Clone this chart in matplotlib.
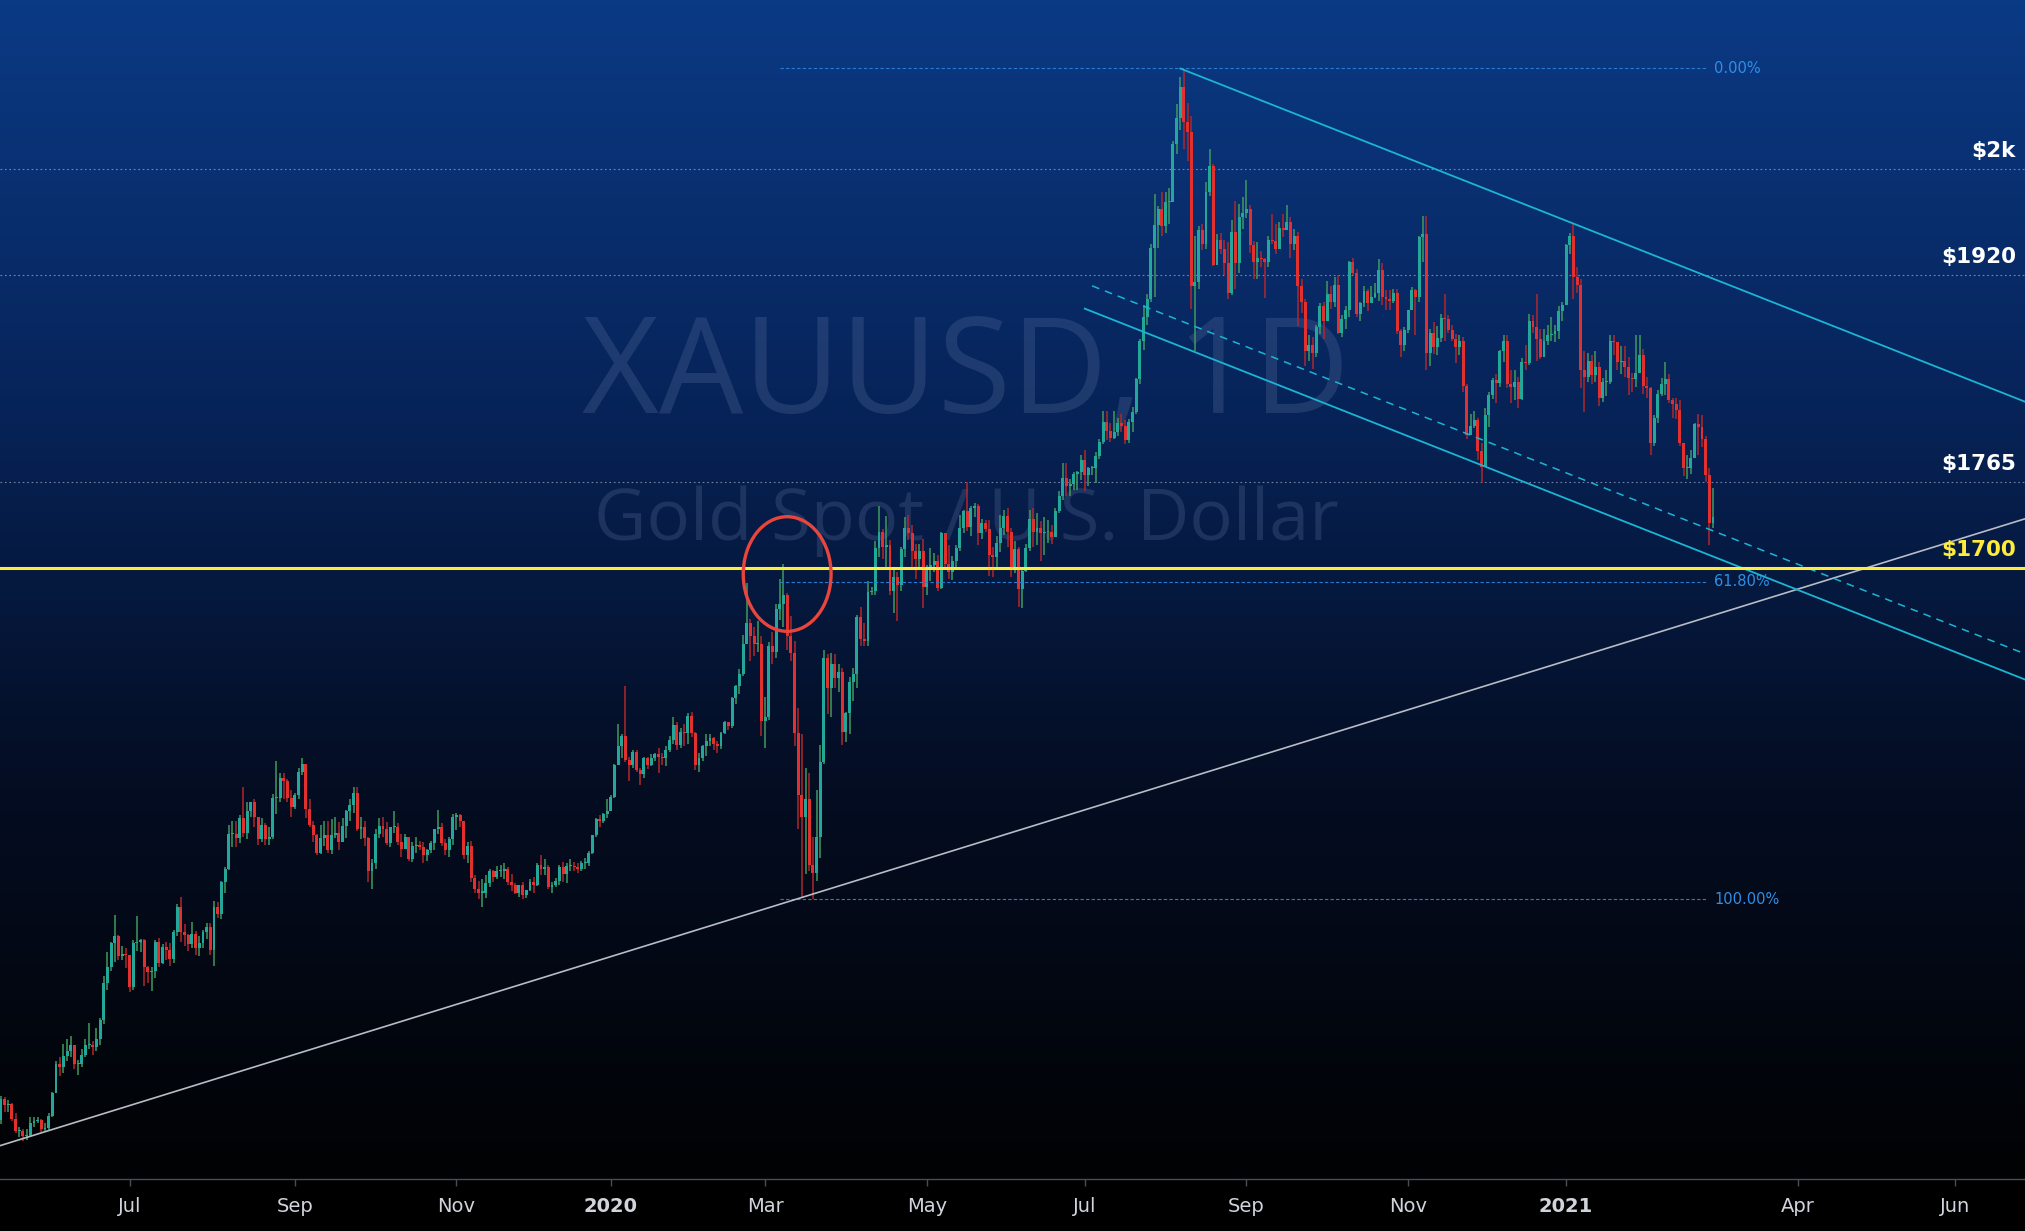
import numpy as np
import pandas as pd
import matplotlib
matplotlib.use('Agg')
import matplotlib.pyplot as plt
from matplotlib.patches import Ellipse
from matplotlib.colors import LinearSegmentedColormap

# XAUUSD daily candles, 2019-05-13 .. 2021-03-01
closes_2019 = [
    1301, 1296, 1297, 1286, 1277, 1277, 1273, 1274, 1283, 1284, 1285, 1278, 1279, 1288, 1305,  # may
    1327, 1325, 1333, 1337, 1341, 1327, 1327, 1334, 1341, 1341, 1340, 1346, 1360, 1388, 1400,
    1418, 1423, 1408, 1410, 1409,  # jun
    1385, 1418, 1419, 1420, 1400, 1396, 1397, 1419, 1403, 1415, 1413, 1406, 1426, 1445, 1426,
    1424, 1417, 1425, 1414, 1418, 1426, 1430, 1413,  # jul
    1445, 1440, 1464, 1474, 1500, 1500, 1497, 1512, 1501, 1517, 1524, 1513, 1496, 1507, 1496,
    1498, 1527, 1527, 1542, 1540, 1527, 1520,  # aug
    1529, 1547, 1553, 1519, 1507, 1499, 1486, 1497, 1499, 1488, 1499, 1501, 1494, 1506, 1517,
    1522, 1531, 1504, 1505, 1497, 1472,  # sep
    1478, 1500, 1506, 1504, 1493, 1505, 1505, 1494, 1489, 1498, 1481, 1491, 1492, 1490, 1484,
    1488, 1493, 1504, 1505, 1493, 1488, 1496, 1513,  # oct
    1514, 1510, 1484, 1491, 1467, 1459, 1456, 1456, 1463, 1472, 1468, 1472, 1472, 1474, 1464,
    1462, 1456, 1462, 1454, 1458, 1464,  # nov
    1462, 1477, 1474, 1475, 1460, 1462, 1465, 1475, 1470, 1476, 1476, 1475, 1474, 1478, 1478,
    1486, 1499, 1511, 1510, 1515, 1517,  # dec
]
highs_2019 = [
    1303, 1302, 1300, 1298, 1290, 1280, 1278, 1278, 1287, 1287, 1287, 1286, 1283, 1290, 1306,
    1329, 1332, 1342, 1346, 1348, 1340, 1330, 1338, 1346, 1358, 1344, 1354, 1362, 1393, 1411,
    1419, 1439, 1424, 1416, 1414,
    1396, 1420, 1438, 1421, 1421, 1401, 1400, 1420, 1422, 1417, 1419, 1418, 1428, 1447, 1453,
    1432, 1425, 1434, 1427, 1423, 1428, 1433, 1433,
    1450, 1449, 1465, 1475, 1507, 1510, 1510, 1514, 1535, 1524, 1524, 1526, 1513, 1512, 1508,
    1505, 1530, 1555, 1546, 1546, 1541, 1533,
    1531, 1550, 1557, 1553, 1526, 1510, 1500, 1507, 1510, 1510, 1511, 1513, 1509, 1512, 1518,
    1526, 1535, 1535, 1513, 1510, 1498,
    1481, 1504, 1512, 1513, 1509, 1505, 1517, 1508, 1500, 1500, 1498, 1494, 1498, 1495, 1494,
    1489, 1495, 1504, 1518, 1508, 1496, 1498, 1515,
    1516, 1515, 1510, 1494, 1495, 1469, 1465, 1466, 1469, 1474, 1473, 1476, 1477, 1478, 1475,
    1470, 1463, 1462, 1464, 1458, 1466,
    1468, 1478, 1484, 1481, 1477, 1464, 1467, 1477, 1479, 1478, 1481, 1479, 1478, 1480, 1482,
    1487, 1499, 1512, 1514, 1516, 1526,
]
lows_2019 = [
    1282, 1291, 1291, 1284, 1275, 1272, 1269, 1270, 1272, 1280, 1283, 1276, 1277, 1277, 1287,
    1305, 1318, 1320, 1329, 1332, 1323, 1319, 1325, 1332, 1338, 1334, 1337, 1341, 1357, 1383,
    1397, 1404, 1405, 1405, 1399,
    1381, 1383, 1412, 1411, 1386, 1388, 1382, 1392, 1400, 1402, 1405, 1401, 1403, 1423, 1419,
    1416, 1412, 1414, 1409, 1408, 1414, 1421, 1409,
    1401, 1437, 1436, 1456, 1473, 1490, 1490, 1493, 1498, 1496, 1513, 1505, 1492, 1494, 1492,
    1492, 1496, 1515, 1524, 1526, 1524, 1513,
    1519, 1526, 1544, 1512, 1505, 1494, 1484, 1485, 1491, 1486, 1485, 1497, 1488, 1495, 1497,
    1510, 1516, 1502, 1496, 1491, 1464,
    1459, 1474, 1497, 1498, 1492, 1490, 1501, 1492, 1483, 1489, 1480, 1479, 1486, 1488, 1478,
    1480, 1486, 1488, 1500, 1491, 1484, 1483, 1492,
    1503, 1505, 1481, 1478, 1464, 1456, 1451, 1445, 1452, 1460, 1464, 1466, 1468, 1466, 1462,
    1457, 1455, 1453, 1451, 1452, 1457,
    1456, 1461, 1469, 1469, 1459, 1456, 1460, 1462, 1464, 1463, 1472, 1472, 1471, 1472, 1474,
    1476, 1485, 1498, 1505, 1508, 1512,
]

closes_2020 = [
    1528, 1552, 1566, 1574, 1556, 1552, 1562, 1548, 1545, 1557, 1552, 1557, 1560, 1558, 1557,
    1563, 1571, 1582, 1567, 1577, 1576, 1589,  # jan
    1576, 1552, 1557, 1566, 1570, 1572, 1568, 1566, 1576, 1584, 1581, 1602, 1611, 1620, 1643,
    1659, 1649, 1643, 1643, 1585,  # feb
    1588, 1641, 1637, 1669, 1673, 1680, 1649, 1636, 1576, 1529, 1513, 1526, 1477, 1471, 1498,
    1554, 1632, 1610, 1628, 1617, 1622, 1577,  # mar
    1591, 1614, 1620, 1663, 1647, 1645, 1682, 1683, 1715, 1727, 1716, 1717, 1683, 1693, 1687,
    1714, 1730, 1726, 1713, 1707, 1713, 1686,  # apr
    1700, 1702, 1705, 1685, 1726, 1703, 1697, 1705, 1715, 1730, 1743, 1731, 1745, 1747, 1726,
    1734, 1729, 1710, 1708, 1719, 1730,  # may
    1739, 1727, 1699, 1714, 1684, 1698, 1715, 1737, 1727, 1730, 1726, 1727, 1727, 1723, 1743,
    1754, 1768, 1762, 1763, 1771, 1772, 1781,  # jun
    1770, 1775, 1775, 1784, 1795, 1810, 1803, 1798, 1802, 1809, 1807, 1796, 1810, 1817, 1842,
    1871, 1889, 1902, 1941, 1958, 1970, 1957, 1975,  # jul
    1975, 2019, 2038, 2062, 2035, 2028, 1912, 1915, 1954, 1944, 1983, 2002, 1928, 1947, 1940,
    1929, 1907, 1953, 1929, 1964, 1967,  # aug
    1970, 1943, 1930, 1933, 1932, 1930, 1947, 1946, 1940, 1956, 1954, 1960, 1944, 1950, 1912,
    1900, 1863, 1868, 1862, 1881, 1897, 1886,  # sep
    1906, 1900, 1913, 1877, 1887, 1894, 1930, 1922, 1891, 1899, 1908, 1899, 1904, 1907, 1924,
    1904, 1902, 1901, 1907, 1878, 1868, 1879,  # oct
    1894, 1909, 1904, 1949, 1951, 1862, 1877, 1866, 1873, 1888, 1887, 1879, 1872, 1866, 1871,
    1837, 1800, 1807, 1811, 1788, 1776,  # nov
    1815, 1830, 1841, 1839, 1863, 1871, 1838, 1836, 1840, 1827, 1855, 1854, 1886, 1881, 1872,
    1859, 1871, 1875, 1876, 1878, 1893, 1898,  # dec
]
highs_2020 = [
    1529, 1553, 1583, 1575, 1611, 1558, 1563, 1563, 1550, 1558, 1558, 1560, 1561, 1565, 1561,
    1566, 1574, 1588, 1584, 1580, 1583, 1591,
    1592, 1577, 1561, 1567, 1575, 1575, 1573, 1570, 1577, 1585, 1584, 1603, 1612, 1624, 1650,
    1689, 1662, 1656, 1660, 1649,
    1603, 1644, 1652, 1673, 1692, 1703, 1681, 1664, 1645, 1595, 1575, 1550, 1546, 1498, 1533,
    1567, 1638, 1635, 1636, 1635, 1628, 1625,
    1592, 1618, 1625, 1665, 1671, 1659, 1690, 1686, 1720, 1747, 1729, 1739, 1721, 1700, 1697,
    1716, 1738, 1740, 1732, 1718, 1718, 1722,
    1702, 1715, 1711, 1710, 1727, 1722, 1717, 1709, 1717, 1740, 1744, 1765, 1747, 1749, 1748,
    1737, 1736, 1736, 1716, 1724, 1740,
    1744, 1745, 1730, 1720, 1716, 1701, 1718, 1744, 1745, 1741, 1735, 1738, 1736, 1732, 1745,
    1758, 1779, 1779, 1767, 1772, 1773, 1785,
    1789, 1776, 1777, 1787, 1797, 1818, 1818, 1809, 1818, 1813, 1816, 1811, 1812, 1821, 1843,
    1872, 1898, 1906, 1944, 1981, 1972, 1983, 1983,
    1986, 2021, 2049, 2069, 2075, 2050, 2040, 1950, 1957, 1959, 1990, 2015, 2004, 1951, 1952,
    1947, 1945, 1962, 1976, 1974, 1979,
    1992, 1973, 1946, 1945, 1938, 1933, 1950, 1966, 1959, 1960, 1966, 1973, 1964, 1955, 1953,
    1917, 1902, 1875, 1874, 1883, 1899, 1900,
    1916, 1912, 1919, 1920, 1890, 1897, 1931, 1933, 1925, 1900, 1912, 1910, 1912, 1914, 1932,
    1929, 1909, 1909, 1910, 1910, 1880, 1881,
    1894, 1911, 1910, 1950, 1965, 1965, 1880, 1885, 1882, 1891, 1906, 1890, 1883, 1876, 1875,
    1874, 1838, 1816, 1818, 1813, 1794,
    1820, 1832, 1843, 1846, 1864, 1875, 1875, 1849, 1849, 1844, 1858, 1868, 1891, 1890, 1906,
    1880, 1880, 1883, 1889, 1883, 1897, 1900,
]
lows_2020 = [
    1518, 1527, 1552, 1557, 1554, 1540, 1550, 1547, 1537, 1542, 1549, 1551, 1555, 1546, 1552,
    1551, 1562, 1568, 1563, 1565, 1566, 1568,
    1573, 1548, 1547, 1555, 1559, 1566, 1563, 1561, 1564, 1575, 1578, 1580, 1598, 1605, 1619,
    1645, 1630, 1634, 1637, 1574,
    1565, 1586, 1628, 1632, 1661, 1656, 1638, 1630, 1566, 1504, 1452, 1470, 1472, 1451, 1465,
    1482, 1553, 1590, 1588, 1610, 1607, 1567,
    1569, 1575, 1600, 1610, 1641, 1641, 1641, 1680, 1680, 1708, 1707, 1701, 1680, 1666, 1660,
    1683, 1708, 1721, 1701, 1692, 1700, 1670,
    1680, 1690, 1697, 1683, 1684, 1700, 1692, 1691, 1700, 1713, 1726, 1728, 1724, 1738, 1717,
    1722, 1727, 1694, 1693, 1700, 1712,
    1725, 1716, 1693, 1696, 1671, 1670, 1697, 1713, 1716, 1717, 1705, 1710, 1719, 1718, 1723,
    1741, 1751, 1754, 1754, 1759, 1759, 1766,
    1758, 1762, 1770, 1764, 1782, 1793, 1796, 1795, 1797, 1799, 1802, 1793, 1794, 1802, 1816,
    1838, 1864, 1883, 1900, 1904, 1941, 1950, 1952,
    1959, 1976, 2011, 2029, 2015, 2006, 1895, 1863, 1910, 1939, 1940, 1980, 1927, 1929, 1936,
    1920, 1902, 1905, 1910, 1922, 1955,
    1963, 1937, 1917, 1917, 1926, 1903, 1926, 1944, 1936, 1942, 1949, 1956, 1933, 1939, 1882,
    1892, 1852, 1856, 1850, 1859, 1876, 1872,
    1886, 1895, 1896, 1876, 1874, 1880, 1889, 1920, 1889, 1886, 1896, 1893, 1899, 1903, 1901,
    1898, 1894, 1894, 1899, 1876, 1859, 1863,
    1877, 1894, 1875, 1900, 1930, 1849, 1852, 1861, 1860, 1870, 1871, 1877, 1871, 1854, 1860,
    1832, 1797, 1800, 1805, 1781, 1764,
    1776, 1806, 1827, 1824, 1836, 1855, 1835, 1824, 1826, 1820, 1826, 1849, 1853, 1877, 1856,
    1857, 1860, 1868, 1871, 1870, 1872, 1886,
]

closes_2021 = [
    1943, 1950, 1919, 1913, 1849, 1844, 1856, 1845, 1851, 1828, 1840, 1840, 1871, 1870, 1855,
    1856, 1851, 1843, 1842, 1847,  # jan
    1860, 1837, 1835, 1794, 1813, 1831, 1838, 1842, 1826, 1823, 1819, 1794, 1775, 1775, 1783,
    1808, 1806, 1797, 1770, 1734,  # feb
    1738,  # mar 1
]
highs_2021 = [
    1944, 1952, 1959, 1926, 1917, 1863, 1862, 1860, 1863, 1855, 1843, 1849, 1875, 1875, 1870,
    1867, 1867, 1859, 1847, 1875,
    1875, 1865, 1844, 1836, 1815, 1834, 1843, 1855, 1846, 1828, 1828, 1826, 1794, 1785, 1789,
    1809, 1816, 1815, 1799, 1775,
    1760,
]
lows_2021 = [
    1900, 1936, 1902, 1907, 1835, 1817, 1840, 1838, 1840, 1822, 1825, 1829, 1838, 1860, 1849,
    1846, 1844, 1830, 1832, 1836,
    1849, 1831, 1828, 1785, 1792, 1809, 1829, 1830, 1824, 1813, 1812, 1792, 1769, 1767, 1771,
    1784, 1785, 1791, 1765, 1717,
    1730,
]
first_open = 1285

# drawings on the chart
levels = [2000, 1920, 1765]
level_labels = ['$2k', '$1920', '$1765']
key_level = 1700
fib_high, fib_low = 2075.6, 1451.0
fib_ratios = [0.0, 0.618, 1.0]
fib_names = ['0.00%', '61.80%', '100.00%']
fib_span = ('2020-03-06', '2021-02-25')
support_pts = [('2019-05-21', 1271.0), ('2020-03-16', 1452.3)]
channel_pts = [('2020-08-06', 2075.6), ('2021-01-06', 1959.0)]
channel_lower = ('2020-07-01', -208.9)
channel_mid = ('2020-07-03', -189.6)
circle_center = ('2020-03-10', 1695.5)

tick_months = ['2019-07', '2019-09', '2019-11', '2020-01', '2020-03', '2020-05',
               '2020-07', '2020-09', '2020-11', '2021-01', '2021-04', '2021-06']
tick_labels = ['Jul', 'Sep', 'Nov', '2020', 'Mar', 'May',
               'Jul', 'Sep', 'Nov', '2021', 'Apr', 'Jun']

# trading days (no weekends, no xmas / new year)
days = pd.bdate_range('2019-05-13', '2021-07-30')
days = days[~(((days.month == 12) & (days.day == 25)) | ((days.month == 1) & (days.day == 1)))]


def bar(s):
    return days.get_loc(pd.Timestamp(s))


c = np.array(closes_2019 + closes_2020 + closes_2021, dtype=float)
h = np.array(highs_2019 + highs_2020 + highs_2021, dtype=float)
l = np.array(lows_2019 + lows_2020 + lows_2021, dtype=float)
o = np.concatenate([[first_open], c[:-1]])
h = np.maximum(h, np.maximum(o, c))
l = np.minimum(l, np.minimum(o, c))
x = np.arange(len(c))

W, H = 2025, 1231
fig = plt.figure(figsize=(W / 100, H / 100), dpi=100)
fig.patch.set_facecolor('#000000')
ax = fig.add_axes([0, 52 / H, 1, 1179 / H])

bg = LinearSegmentedColormap.from_list('bg', ['#0b3a85', '#07245a', '#040d22', '#010203'])
ax.imshow(np.linspace(0, 1, 256)[:, None], cmap=bg, aspect='auto',
          extent=[0, 1, 0, 1], transform=ax.transAxes, zorder=0)

xmin = -0.25
xmax = xmin + W / 3.674
ax.set_xlim(xmin, xmax)
ax.set_ylim(1240.6, 2127.1)

# watermark
ax.text(0.477, 0.6497, 'XAUUSD, 1D', transform=ax.transAxes, ha='center', va='baseline',
        fontsize=96, color='#7f93bd', alpha=0.2, family='Open Sans', zorder=1)
ax.text(0.477, 0.542, 'Gold Spot / U.S. Dollar', transform=ax.transAxes, ha='center',
        va='baseline', fontsize=52, color='#7f93bd', alpha=0.2, family='Open Sans', zorder=1)

for lv in levels:
    ax.axhline(lv, color='#a8b0c4', lw=0.8, ls=(0, (1.5, 2.5)), alpha=0.7, zorder=2)

# candles
up = c >= o
wick_col = np.where(up, '#3f9a5e', '#b3262a')
body_col = np.where(up, '#22a79a', '#e2302e')
ax.vlines(x, l, h, colors=wick_col, lw=1.1, zorder=3)
body = np.maximum(np.abs(c - o), 0.8)
ax.bar(x, body, bottom=np.minimum(o, c), width=0.8, color=body_col, lw=0, zorder=4)

# fib retracement
fx0, fx1 = bar(fib_span[0]), bar(fib_span[1])
for r, name in zip(fib_ratios, fib_names):
    p = fib_high - r * (fib_high - fib_low)
    ax.hlines(p, fx0, fx1, color='#2a7cd0', lw=0.8, ls=(0, (3, 2)), zorder=5)
    ax.text(fx1 + 2.4, p, name, color='#2e8fe6', fontsize=10.5, ha='left', va='center', zorder=5)

# rising support line
(d1, p1), (d2, p2) = support_pts
ax.axline((bar(d1), p1), (bar(d2), p2), color='#b8bcc6', lw=1.2, zorder=5)

# falling channel
(d1, p1), (d2, p2) = channel_pts
slope = (p2 - p1) / (bar(d2) - bar(d1))
top_x = np.array([bar(d1), xmax])
ax.plot(top_x, p1 + slope * (top_x - bar(d1)), color='#1bb5d4', lw=1.3, zorder=5)
lx = np.array([bar(channel_lower[0]), xmax])
ax.plot(lx, p1 + slope * (lx - bar(d1)) + channel_lower[1], color='#1bb5d4', lw=1.3, zorder=5)
mx = np.array([bar(channel_mid[0]), xmax])
ax.plot(mx, p1 + slope * (mx - bar(d1)) + channel_mid[1], color='#1bb5d4', lw=1.1,
        ls=(0, (5, 4)), zorder=5)

ax.axhline(key_level, color='#ffeb3b', lw=2.2, zorder=6)

ax.add_patch(Ellipse((bar(circle_center[0]), circle_center[1]), width=23.9, height=86.2,
                     fill=False, edgecolor='#e8453c', lw=2.4, zorder=7))

for lv, lab in zip(levels, level_labels):
    ax.annotate(lab, xy=(1, lv), xycoords=('axes fraction', 'data'), xytext=(-6.5, 13),
                textcoords='offset points', ha='right', va='center', fontsize=15.5,
                fontweight='bold', color='white', zorder=8)
ax.annotate('$%d' % key_level, xy=(1, key_level), xycoords=('axes fraction', 'data'),
            xytext=(-6.5, 13), textcoords='offset points', ha='right', va='center',
            fontsize=15.5, fontweight='bold', color='#ffeb3b', zorder=8)

# time axis
tick_pos = [int(np.argmax((days.year == int(m[:4])) & (days.month == int(m[5:])))) for m in tick_months]
ax.set_xticks(tick_pos)
ax.set_xticklabels(tick_labels)
for t in ax.get_xticklabels():
    if t.get_text().isdigit():
        t.set_fontweight('bold')
ax.tick_params(axis='x', colors='#4a4d55', length=5, width=1, pad=8, labelsize=14,
               labelcolor='#d1d4dc')
ax.set_yticks([])
for s in ['top', 'right', 'left']:
    ax.spines[s].set_visible(False)
ax.spines['bottom'].set_color('#4a4d55')
ax.spines['bottom'].set_linewidth(1)

fig.savefig('out.png', dpi=100, facecolor=fig.get_facecolor())
